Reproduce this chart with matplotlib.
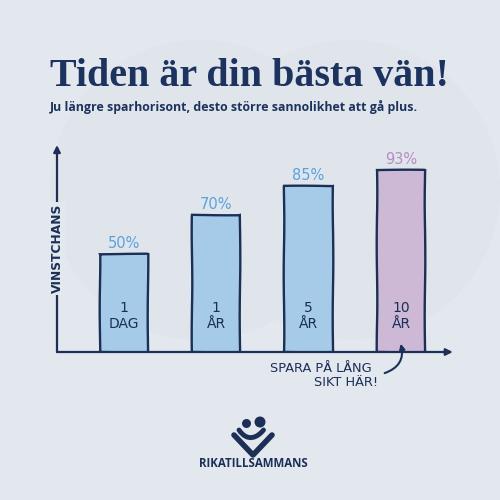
import matplotlib
matplotlib.use("Agg")
import matplotlib.pyplot as plt
from matplotlib.patches import Circle, PathPatch, FancyArrowPatch
from matplotlib.path import Path

categories = ["1\nDAG", "1\nÅR", "5\nÅR", "10\nÅR"]
values = [50, 70, 85, 93]
value_labels = ["50%", "70%", "85%", "93%"]

BG = "#e3e8ee"
NAVY = "#1b2f57"
BLUE = "#a6cbe8"
PURPLE = "#cdb9d6"
BLUE_TXT = "#5aa2de"
PURPLE_TXT = "#b88cc1"
bar_colors = [BLUE, BLUE, BLUE, PURPLE]
txt_colors = [BLUE_TXT, BLUE_TXT, BLUE_TXT, PURPLE_TXT]

fig = plt.figure(figsize=(5, 5), dpi=100, facecolor=BG)

# faint background shapes (behind everything)
bgax = fig.add_axes([0, 0, 1, 1], zorder=-10)
bgax.set_xlim(0, 1)
bgax.set_ylim(0, 1)
bgax.axis("off")
bgax.add_patch(Circle((0.40, 0.62), 0.30, facecolor="#e0e5eb", edgecolor="none"))
bgax.add_patch(Circle((0.70, 0.62), 0.30, facecolor="#e0e5eb", edgecolor="none"))

ax = fig.add_axes([0.114, 0.296, 0.786, 0.41])
ax.set_facecolor("none")
x = list(range(len(values)))
bars = ax.bar(x, values, width=0.52, color=bar_colors, edgecolor=NAVY,
              linewidth=1.7, zorder=3)
for b in bars:
    b.set_sketch_params(0.3, 120, 2)
ax.set_xlim(-0.72, 3.53)
ax.set_ylim(0, 105)
for s in ax.spines.values():
    s.set_visible(False)
ax.set_xticks([])
ax.set_yticks([])

# axes arrows
ax.annotate("", xy=(3.56, 0), xytext=(-0.72, 0), annotation_clip=False,
            arrowprops=dict(arrowstyle="-|>", color=NAVY, lw=1.6,
                            mutation_scale=10, shrinkA=0, shrinkB=0), zorder=4)
ax.annotate("", xy=(-0.72, 106), xytext=(-0.72, 0), annotation_clip=False,
            arrowprops=dict(arrowstyle="-|>", color=NAVY, lw=1.6,
                            mutation_scale=10, shrinkA=0, shrinkB=0), zorder=4)

for xi, v, lab, c, cat in zip(x, values, value_labels, txt_colors, categories):
    ax.text(xi, v + 1.5, lab, ha="center", va="bottom", color=c,
            fontsize=10.5, family="DejaVu Sans", zorder=5)
    ax.text(xi, 11, cat, ha="center", va="bottom", color=NAVY,
            fontsize=10, family="DejaVu Sans", linespacing=1.1, zorder=5)

ax.text(-0.72, 53, "VINSTCHANS", rotation=90, ha="center", va="center",
        color=NAVY, fontsize=8.8, fontweight="bold", family="DejaVu Sans",
        bbox=dict(facecolor=BG, edgecolor="none", pad=1.5), zorder=6)

# annotation
fig.text(0.642, 0.262, "SPARA PÅ LÅNG", ha="center", va="center",
         color=NAVY, fontsize=9.3, family="DejaVu Sans")
fig.text(0.756, 0.236, "SIKT HÄR!", ha="right", va="center",
         color=NAVY, fontsize=9.3, family="DejaVu Sans")
arr = FancyArrowPatch((0.764, 0.252), (0.800, 0.318), transform=fig.transFigure,
                      connectionstyle="arc3,rad=0.5", arrowstyle="-|>",
                      mutation_scale=8, color=NAVY, lw=1.5)
fig.patches.append(arr)

# titles
fig.text(0.5, 0.848, "Tiden är din bästa vän!", ha="center", va="center",
         color="#1c325f", fontsize=28.8, fontweight="bold",
         family="Liberation Serif")
fig.text(0.1, 0.786, "Ju längre sparhorisont, desto större sannolikhet att gå plus.",
         ha="left", va="center", color="#1c325f", fontsize=8.9,
         fontweight="bold", family="Open Sans")

# logo
fig.patches.append(Circle((0.493, 0.153), 0.009, transform=fig.transFigure,
                          facecolor=NAVY, edgecolor="none"))
fig.patches.append(Circle((0.520, 0.156), 0.011, transform=fig.transFigure,
                          facecolor=NAVY, edgecolor="none"))
heart = Path([(0.468, 0.130), (0.506, 0.090), (0.544, 0.130)],
             [Path.MOVETO, Path.LINETO, Path.LINETO])
fig.patches.append(PathPatch(heart, transform=fig.transFigure, facecolor="none",
                             edgecolor=NAVY, lw=4, capstyle="round",
                             joinstyle="round"))
s_path = Path([(0.478, 0.140), (0.495, 0.115), (0.515, 0.125), (0.527, 0.140)],
              [Path.MOVETO, Path.CURVE4, Path.CURVE4, Path.CURVE4])
fig.patches.append(PathPatch(s_path, transform=fig.transFigure, facecolor="none",
                             edgecolor=NAVY, lw=3.5, capstyle="round"))
fig.text(0.506, 0.073, "RIKATILLSAMMANS", ha="center", va="center",
         color=NAVY, fontsize=8.3, fontweight="bold", family="Open Sans")

fig.savefig("out.png", dpi=100, facecolor=BG)
